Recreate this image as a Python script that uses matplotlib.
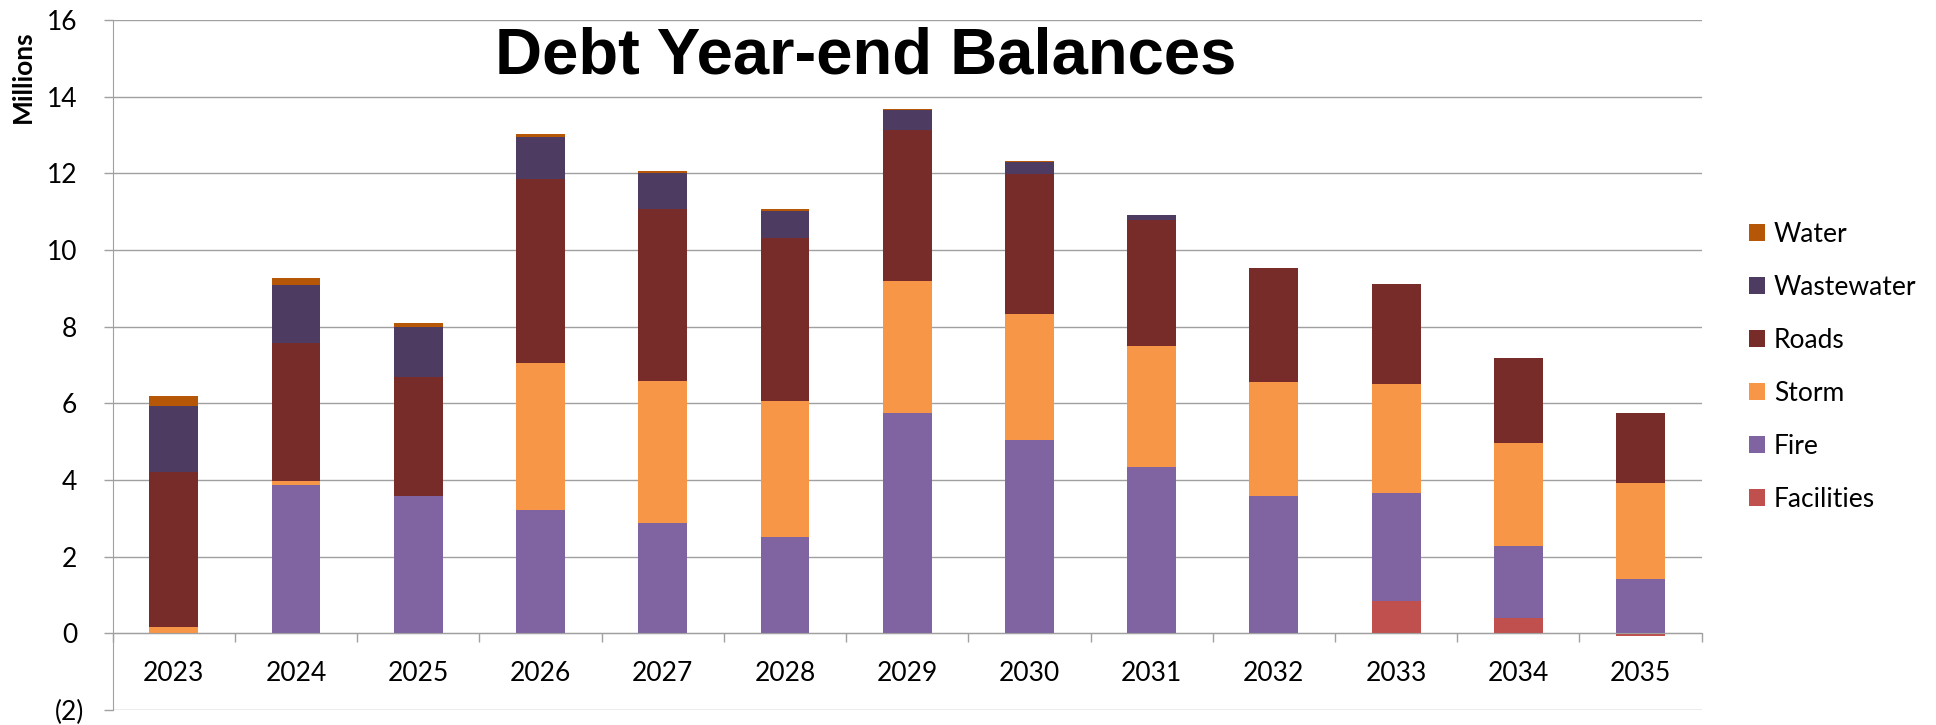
import matplotlib
matplotlib.use("Agg")
import matplotlib.pyplot as plt
import matplotlib.transforms as mtransforms
import numpy as np

# годы и остатки долга по видам (млн)
years = ["2023", "2024", "2025", "2026", "2027", "2028", "2029",
         "2030", "2031", "2032", "2033", "2034", "2035"]

facilities = [0, 0, 0, 0, 0, 0, 0, 0, 0, 0, 0.85, 0.40, -0.08]
fire = [0, 3.88, 3.58, 3.23, 2.88, 2.51, 5.75, 5.05, 4.34, 3.59, 2.82, 1.89, 1.42]
storm = [0.17, 0.10, 0, 3.81, 3.69, 3.55, 3.43, 3.29, 3.15, 2.97, 2.84, 2.68, 2.50]
roads = [4.05, 3.60, 3.12, 4.80, 4.51, 4.25, 3.95, 3.63, 3.29, 2.97, 2.60, 2.22, 1.82]
wastewater = [1.70, 1.51, 1.30, 1.12, 0.94, 0.72, 0.52, 0.32, 0.14, 0, 0, 0, 0]
water = [0.26, 0.17, 0.09, 0.07, 0.05, 0.04, 0.03, 0.03, 0, 0, 0, 0, 0]

series = [
    ("Facilities", facilities, "#c0504d"),
    ("Fire", fire, "#8064a2"),
    ("Storm", storm, "#f79646"),
    ("Roads", roads, "#772c2a"),
    ("Wastewater", wastewater, "#4d3b62"),
    ("Water", water, "#b65708"),
]

plt.rcParams['font.family'] = ['Lato', 'DejaVu Sans']
grid_col = "#a0a0a0"

fig = plt.figure(figsize=(19.36, 7.25), dpi=100)
ax = fig.add_axes([112.7 / 1936, 1 - 710 / 725, (1701.7 - 112.7) / 1936, 690 / 725])

x = np.arange(len(years))
pos_base = np.zeros(len(years))
neg_base = np.zeros(len(years))
handles = []
for name, vals, col in series:
    v = np.array(vals, dtype=float)
    # положительные вверх, отрицательные вниз от нуля
    base = np.where(v >= 0, pos_base, neg_base)
    b = ax.bar(x, v, 0.4, bottom=base, color=col, linewidth=0, label=name)
    handles.append(b)
    pos_base += np.where(v > 0, v, 0)
    neg_base += np.where(v < 0, v, 0)

ax.set_xlim(-0.5, len(years) - 0.5)
ax.set_ylim(-2, 16)
ax.set_yticks(np.arange(-2, 17, 2))
ax.set_yticklabels(["(2)" if t < 0 else str(t) for t in range(-2, 17, 2)])
ax.yaxis.grid(True, color=grid_col, linewidth=1.0)
ax.set_axisbelow(True)

# ось X проходит через ноль, засечки между годами
ax.spines['bottom'].set_position(('data', 0))
ax.spines['bottom'].set_color(grid_col)
ax.spines['left'].set_color(grid_col)
ax.spines['top'].set_visible(False)
ax.spines['right'].set_visible(False)
ax.set_xticks(x)
ax.set_xticklabels(years)
ax.set_xticks(np.arange(-0.5, len(years), 1), minor=True)
ax.tick_params(axis='x', which='major', length=0, pad=20, labelsize=19)
ax.tick_params(axis='x', which='minor', length=6.5, color=grid_col, width=1.0)
ax.tick_params(axis='y', length=6.5, color=grid_col, width=1.0, pad=19, labelsize=19)

# скобка у отрицательного числа выступает вправо
neg_lbl = ax.get_yticklabels()[0]
neg_lbl.set_transform(neg_lbl.get_transform() +
                      mtransforms.ScaledTranslation(0.07, 0, fig.dpi_scale_trans))

fig.text(23 / 1936, 1 - 77 / 725, "Millions", rotation=90, ha='center', va='center',
         fontsize=19, fontweight='bold')

fig.text(866 / 1936, 1 - 74 / 725, "Debt Year-end Balances", ha='center', va='baseline',
         fontsize=47, fontweight='bold', family=['Liberation Sans', 'DejaVu Sans'])

leg = ax.legend(handles[::-1], [s[0] for s in series[::-1]],
                loc='upper left', bbox_to_anchor=(1749 / 1936, 1 - 222 / 725),
                bbox_transform=fig.transFigure, frameon=False, fontsize=19,
                handlelength=0.6, handleheight=0.6, handletextpad=0.35,
                labelspacing=1.06, borderpad=0, borderaxespad=0)

fig.savefig("out.png", dpi=100)
